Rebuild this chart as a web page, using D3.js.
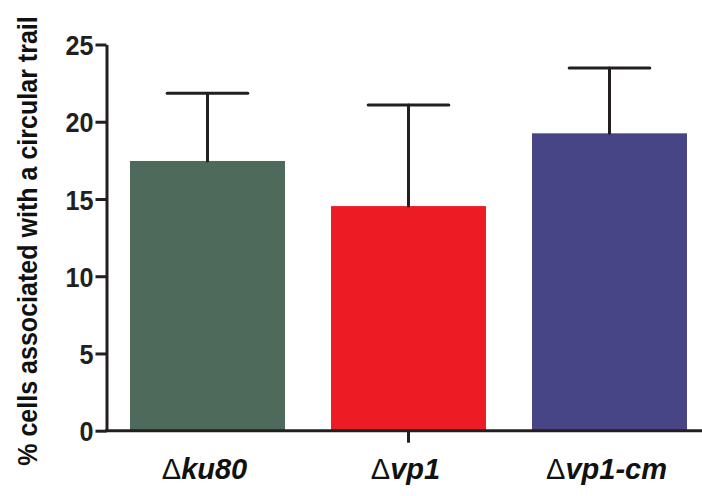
<!DOCTYPE html>
<html>
<head>
<meta charset="utf-8">
<script src="https://cdn.jsdelivr.net/npm/d3@7"></script>
<style>
  body { margin: 0; background: #fff; }
  svg { display: block; }
</style>
</head>
<body>
<div id="chart"></div>
<script>
// data
const strains = ["ku80", "vp1", "vp1-cm"];
const means = [17.46, 14.54, 19.25];
const sems = [4.38, 6.54, 4.23];
const barColors = ["#4d6a5a", "#ed1c24", "#484586"];
const yTicks = [0, 5, 10, 15, 20, 25];

const width = 702;
const height = 496;
const ink = "#231f20";

const svg = d3.select("#chart")
    .append("svg")
    .attr("width", width)
    .attr("height", height);

// scales
const y = d3.scaleLinear()
    .domain([0, 25])
    .range([430.7, 44.5]);

const x = d3.scaleBand()
    .domain(strains)
    .range([106.5, 710.5])
    .paddingInner(0.229)
    .paddingOuter(0.117);

// bars
svg.selectAll("rect.bar")
    .data(strains)
    .enter()
    .append("rect")
    .attr("class", "bar")
    .attr("x", (d) => x(d))
    .attr("y", (d, i) => y(means[i]))
    .attr("width", x.bandwidth())
    .attr("height", (d, i) => y(0) - y(means[i]))
    .attr("fill", (d, i) => barColors[i]);

// error bars (upper only)
const capW = x.bandwidth() * 0.52;
const err = svg.append("g")
    .attr("stroke", ink)
    .attr("stroke-width", 3)
    .attr("stroke-linecap", "round");

strains.forEach((d, i) => {
    const cx = x(d) + x.bandwidth() / 2;
    err.append("line")
        .attr("x1", cx).attr("x2", cx)
        .attr("y1", y(means[i])).attr("y2", y(means[i] + sems[i]));
    err.append("line")
        .attr("x1", cx - capW / 2).attr("x2", cx + capW / 2)
        .attr("y1", y(means[i] + sems[i])).attr("y2", y(means[i] + sems[i]));
});

// y axis
svg.append("g")
    .attr("transform", `translate(${x.range()[0]},0)`)
    .call(d3.axisLeft(y).tickValues(yTicks).tickSize(11).tickSizeOuter(0).tickPadding(2))
    .call((g) => g.select(".domain").attr("stroke", ink).attr("stroke-width", 3))
    .call((g) => g.selectAll(".tick line").attr("stroke", ink).attr("stroke-width", 3))
    .call((g) => g.selectAll(".tick text")
        .attr("fill", ink)
        .attr("font-family", "Liberation Sans, Arial, sans-serif")
        .attr("font-weight", "bold")
        .attr("font-size", "28px")
        .attr("dy", "0.36em")
        .attr("textLength", (d) => String(d).length * 14)
        .attr("lengthAdjust", "spacingAndGlyphs"));

// x axis line across the plot
svg.append("line")
    .attr("x1", x.range()[0] - 1.5)
    .attr("x2", width)
    .attr("y1", y(0))
    .attr("y2", y(0))
    .attr("stroke", ink)
    .attr("stroke-width", 3);

// single tick under the middle group
const mid = x(strains[1]) + x.bandwidth() / 2;
svg.append("line")
    .attr("x1", mid).attr("x2", mid)
    .attr("y1", y(0)).attr("y2", y(0) + 12)
    .attr("stroke", ink)
    .attr("stroke-width", 3);

// category labels
const labels = svg.selectAll("text.cat")
    .data(strains)
    .enter()
    .append("text")
    .attr("class", "cat")
    .attr("x", (d) => x(d) + x.bandwidth() / 2 - 3)
    .attr("y", 479)
    .attr("text-anchor", "middle")
    .attr("fill", "#111")
    .attr("font-family", "Liberation Sans, Arial, sans-serif")
    .attr("font-size", "29px");

labels.append("tspan")
    .attr("font-weight", "normal")
    .text("\u0394");
labels.append("tspan")
    .attr("font-weight", "bold")
    .attr("font-style", "italic")
    .text((d) => d);

// y axis title, squeezed along its length like the condensed original
svg.append("text")
    .attr("transform", "translate(37,241) rotate(-90) scale(0.928,1)")
    .attr("text-anchor", "middle")
    .attr("fill", "#111")
    .attr("font-family", "Liberation Sans, Arial, sans-serif")
    .attr("font-weight", "bold")
    .attr("font-size", "27px")
    .text("% cells associated with a circular trail");
</script>
</body>
</html>
